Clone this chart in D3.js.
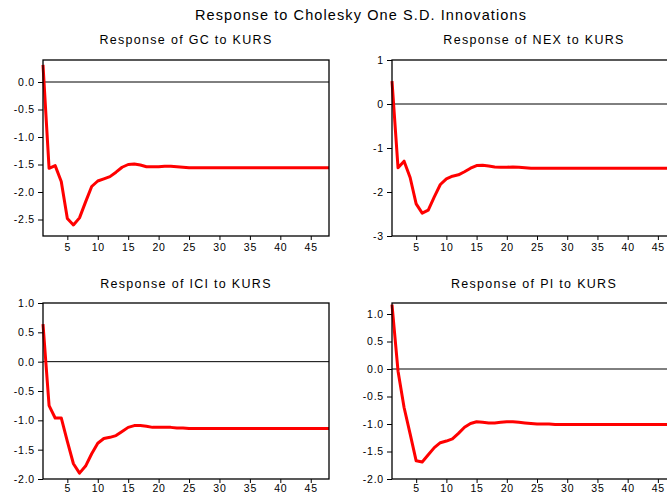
<!DOCTYPE html>
<html>
<head>
<meta charset="utf-8">
<script src="https://cdn.jsdelivr.net/npm/d3@7"></script>
<style>
  body { margin: 0; background: #ffffff; }
  text { font-family: Arial, 'Liberation Sans', sans-serif; fill: #000; }
</style>
</head>
<body>
<svg id="canvas"></svg>
<script>
let mainTitle = "Response to Cholesky One S.D. Innovations"

let periods = [1, 2, 3, 4, 5, 6, 7, 8, 9, 10, 11, 12, 13, 14, 15, 16, 17, 18, 19, 20,
               21, 22, 23, 24, 25, 26, 27, 28, 29, 30, 31, 32, 33, 34, 35, 36, 37, 38, 39, 40,
               41, 42, 43, 44, 45, 46, 47, 48]

let xTicks = [5, 10, 15, 20, 25, 30, 35, 40, 45]

// responses
let gcValues = [0.31, -1.57, -1.52, -1.81, -2.48, -2.60, -2.47, -2.18, -1.90, -1.80,
                -1.76, -1.72, -1.64, -1.55, -1.50, -1.49, -1.51, -1.54, -1.54, -1.54,
                -1.53, -1.53, -1.54, -1.55, -1.56, -1.56, -1.56, -1.56, -1.56, -1.56,
                -1.56, -1.56, -1.56, -1.56, -1.56, -1.56, -1.56, -1.56, -1.56, -1.56,
                -1.56, -1.56, -1.56, -1.56, -1.56, -1.56, -1.56, -1.56]

let nexValues = [0.52, -1.45, -1.30, -1.67, -2.27, -2.48, -2.41, -2.11, -1.83, -1.70,
                 -1.64, -1.61, -1.54, -1.46, -1.40, -1.39, -1.41, -1.43, -1.44, -1.44,
                 -1.43, -1.44, -1.45, -1.46, -1.46, -1.46, -1.46, -1.46, -1.46, -1.46,
                 -1.46, -1.46, -1.46, -1.46, -1.46, -1.46, -1.46, -1.46, -1.46, -1.46,
                 -1.46, -1.46, -1.46, -1.46, -1.46, -1.46, -1.46, -1.46]

let iciValues = [0.64, -0.75, -0.96, -0.96, -1.36, -1.74, -1.90, -1.78, -1.57, -1.39,
                 -1.31, -1.29, -1.26, -1.19, -1.12, -1.09, -1.09, -1.10, -1.12, -1.12,
                 -1.12, -1.12, -1.13, -1.13, -1.14, -1.14, -1.14, -1.14, -1.14, -1.14,
                 -1.14, -1.14, -1.14, -1.14, -1.14, -1.14, -1.14, -1.14, -1.14, -1.14,
                 -1.14, -1.14, -1.14, -1.14, -1.14, -1.14, -1.14, -1.14]

let piValues = [1.17, -0.04, -0.70, -1.18, -1.67, -1.69, -1.56, -1.43, -1.34, -1.31,
                -1.27, -1.17, -1.06, -0.99, -0.96, -0.97, -0.98, -0.98, -0.97, -0.96,
                -0.96, -0.97, -0.98, -0.99, -1.00, -1.00, -1.00, -1.01, -1.01, -1.01,
                -1.01, -1.01, -1.01, -1.01, -1.01, -1.01, -1.01, -1.01, -1.01, -1.01,
                -1.01, -1.01, -1.01, -1.01, -1.01, -1.01, -1.01, -1.01]

let gcTicks = [0.0, -0.5, -1.0, -1.5, -2.0, -2.5]
let nexTicks = [1, 0, -1, -2, -3]
let iciTicks = [1.0, 0.5, 0.0, -0.5, -1.0, -1.5, -2.0]
let piTicks = [1.0, 0.5, 0.0, -0.5, -1.0, -1.5, -2.0]

let width = 667
let height = 494

let canvas = d3.select('#canvas')
               .attr('width', width)
               .attr('height', height)

let panels = [
  { title: 'Response of GC to KURS', values: gcValues, ticks: gcTicks, domain: [-2.8, 0.4], digits: 1,
    left: 43, top: 60, right: 329, bottom: 236, titleY: 44, labelPad: 4 },
  { title: 'Response of NEX to KURS', values: nexValues, ticks: nexTicks, domain: [-3, 1], digits: 0,
    left: 392, top: 60, right: 676, bottom: 236, titleY: 44, labelPad: 4 },
  { title: 'Response of ICI to KURS', values: iciValues, ticks: iciTicks, domain: [-2, 1], digits: 1,
    left: 43, top: 303, right: 329, bottom: 479, titleY: 288, labelPad: 2 },
  { title: 'Response of PI to KURS', values: piValues, ticks: piTicks, domain: [-2.0, 1.2], digits: 1,
    left: 392, top: 303, right: 676, bottom: 479, titleY: 288, labelPad: 2 }
]

canvas.append('text')
      .attr('x', 361)
      .attr('y', 20)
      .attr('text-anchor', 'middle')
      .style('font-size', '14.5px')
      .style('letter-spacing', '1.1px')
      .text(mainTitle)

let drawPanel = (p) => {
  let xScale = d3.scaleLinear()
                 .domain([1, 48])
                 .range([p.left, p.right])

  let yScale = d3.scaleLinear()
                 .domain(p.domain)
                 .range([p.bottom, p.top])

  let g = canvas.append('g')

  g.append('text')
   .attr('x', (p.left + p.right) / 2)
   .attr('y', p.titleY)
   .attr('text-anchor', 'middle')
   .style('font-size', '12.5px')
   .style('letter-spacing', '1.3px')
   .text(p.title)

  // zero line
  g.append('line')
   .attr('x1', p.left)
   .attr('x2', p.right)
   .attr('y1', yScale(0))
   .attr('y2', yScale(0))
   .attr('stroke', '#000')
   .attr('stroke-width', 1)

  let line = d3.line()
               .x((d, i) => xScale(periods[i]))
               .y((d) => yScale(d))

  g.append('path')
   .datum(p.values)
   .attr('d', line)
   .attr('fill', 'none')
   .attr('stroke', '#ff0000')
   .attr('stroke-width', 3)
   .attr('stroke-linejoin', 'round')

  let xAxis = d3.axisBottom(xScale)
                .tickValues(xTicks)
                .tickSize(4)
                .tickPadding(p.labelPad)
                .tickFormat((d) => d)

  let yAxis = d3.axisLeft(yScale)
                .tickValues(p.ticks)
                .tickSize(5)
                .tickPadding(3)
                .tickFormat((d) => d.toFixed(p.digits))

  g.append('g')
   .attr('transform', `translate(0, ${p.bottom})`)
   .call(xAxis)
   .call((a) => a.select('.domain').remove())

  g.append('g')
   .attr('transform', `translate(${p.left}, 0)`)
   .call(yAxis)
   .call((a) => a.select('.domain').remove())

  g.selectAll('.tick text')
   .style('font-size', '10.5px')
   .style('letter-spacing', '0.8px')
   .attr('fill', '#111')

  g.selectAll('.tick line')
   .attr('stroke', '#000')

  // frame
  g.append('rect')
   .attr('x', p.left)
   .attr('y', p.top)
   .attr('width', p.right - p.left)
   .attr('height', p.bottom - p.top)
   .attr('fill', 'none')
   .attr('stroke', '#000')
   .attr('stroke-width', 1.3)
}

panels.forEach(drawPanel)
</script>
</body>
</html>
